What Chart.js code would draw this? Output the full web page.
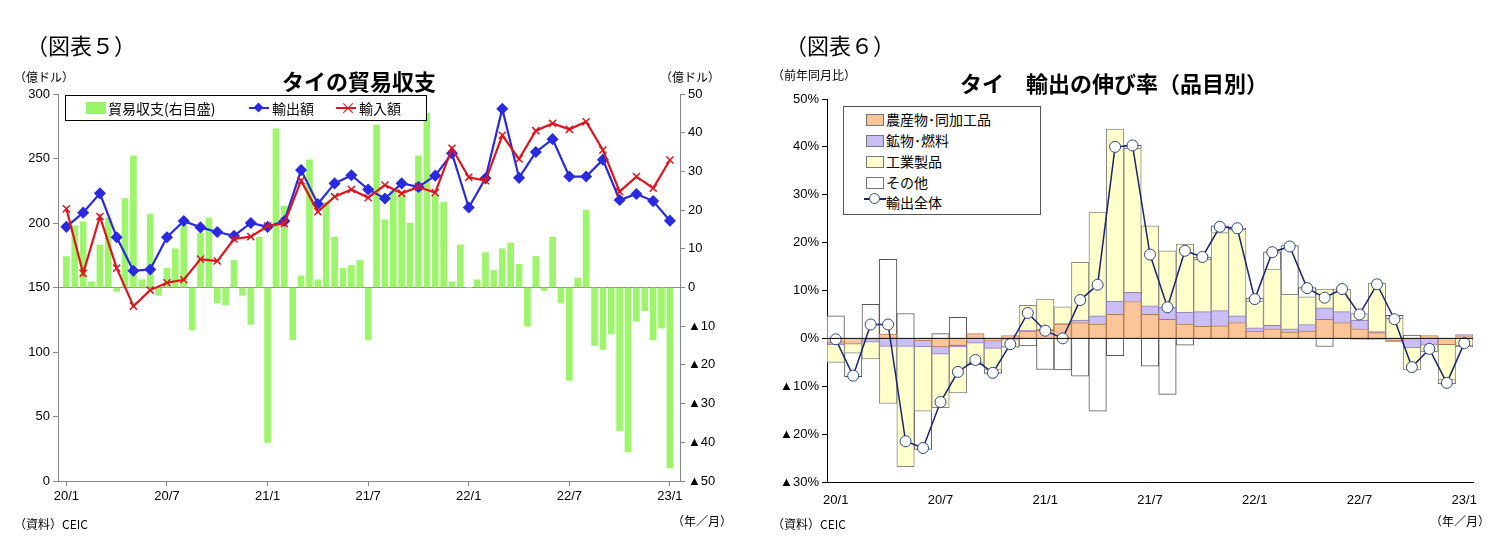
<!DOCTYPE html>
<html><head><meta charset="utf-8">
<script src="https://cdn.jsdelivr.net/npm/chart.js@4"></script>
<style>
body{margin:0;width:1505px;height:559px;background:#fff;position:relative;font-family:"Liberation Sans","Noto Sans CJK JP",sans-serif;overflow:hidden}
.t{position:absolute;white-space:nowrap;color:#000}
.jp{font-family:"Noto Sans CJK JP",sans-serif}
#c1{position:absolute;left:0;top:0}
#c2{position:absolute;left:750px;top:0}
.lg{position:absolute;border:1px solid #000;background:#fff;font-family:"Noto Sans CJK JP",sans-serif;font-size:14px}
</style></head><body>
<canvas id="c1" width="750" height="559"></canvas>
<canvas id="c2" width="755" height="559"></canvas>

<div class="t jp" style="left:26px;top:28px;font-size:22px">（図表５）</div>
<div class="t jp" style="left:785px;top:28px;font-size:22px">（図表６）</div>
<div class="t jp" style="left:282px;top:64px;font-size:22px;font-weight:bold">タイの貿易収支</div>
<div class="t jp" style="left:960px;top:66px;font-size:22px;font-weight:bold">タイ　輸出の伸び率（品目別）</div>
<div class="t jp" style="left:14px;top:68px;font-size:12px">（億ドル）</div>
<div class="t jp" style="left:660px;top:68px;font-size:12px">（億ドル）</div>
<div class="t jp" style="left:772px;top:66px;font-size:12px">（前年同月比）</div>
<div class="t jp" style="left:14px;top:515px;font-size:12px">（資料）CEIC</div>
<div class="t jp" style="left:772px;top:515px;font-size:12px">（資料）CEIC</div>
<div class="t jp" style="left:672px;top:512px;font-size:12px">（年／月）</div>
<div class="t jp" style="left:1430px;top:512px;font-size:12px">（年／月）</div>

<div class="lg" style="left:65px;top:95px;width:360px;height:24px">
 <div style="position:absolute;left:20px;top:6px;width:20px;height:12px;background:#9cf56b"></div>
 <div class="t" style="left:42px;top:2px">貿易収支(右目盛)</div>
 <div style="position:absolute;left:183px;top:11px;width:20px;height:2px;background:#2a2ae0"></div>
 <div style="position:absolute;left:189px;top:8px;width:7px;height:7px;background:#2a2ae0;transform:rotate(45deg)"></div>
 <div class="t" style="left:206px;top:2px">輸出額</div>
 <div style="position:absolute;left:270px;top:11px;width:20px;height:2px;background:#e0141e"></div>
 <div class="t" style="left:274px;top:-1px;color:#e0141e;font-size:16px">×</div>
 <div class="t" style="left:293px;top:2px">輸入額</div>
</div>

<div class="lg" style="left:843px;top:106px;width:196px;height:107px;border-color:#555">
 <div style="position:absolute;left:22px;top:7px;width:16px;height:10px;background:#fbc59a;border:1px solid #777"></div>
 <div class="t" style="left:42px;top:2px">農産物･同加工品</div>
 <div style="position:absolute;left:22px;top:28px;width:16px;height:10px;background:#cbbdf5;border:1px solid #777"></div>
 <div class="t" style="left:42px;top:23px">鉱物･燃料</div>
 <div style="position:absolute;left:22px;top:49px;width:16px;height:10px;background:#ffffcc;border:1px solid #777"></div>
 <div class="t" style="left:42px;top:44px">工業製品</div>
 <div style="position:absolute;left:22px;top:70px;width:16px;height:10px;background:#fff;border:1px solid #777"></div>
 <div class="t" style="left:42px;top:65px">その他</div>
 <div style="position:absolute;left:20px;top:91px;width:22px;height:1.5px;background:#1a2470"></div>
 <div style="position:absolute;left:25px;top:86px;width:9px;height:9px;border-radius:50%;background:#fff;border:1px solid #2a4a80"></div>
 <div class="t" style="left:42px;top:85px">輸出全体</div>
</div>

<script>
// ---- Chart 5 data ----
const months5 = ["20/1","20/2","20/3","20/4","20/5","20/6","20/7","20/8","20/9","20/10","20/11","20/12","21/1","21/2","21/3","21/4","21/5","21/6","21/7","21/8","21/9","21/10","21/11","21/12","22/1","22/2","22/3","22/4","22/5","22/6","22/7","22/8","22/9","22/10","22/11","22/12","23/1"];
const exports5 = [197,208,223,189,163,164,189,201.5,196.6,193,190,200,197,201.5,241,214.7,230.7,237,226,219,230.7,228,236.7,254,212,234.6,288.6,235,255,265,236,236,249,217.8,222.5,217,201.8];
const imports5 = [211,161,205,165,135.6,148,153.7,156,172,170.5,187.6,189.4,197.7,199.7,232.8,208.8,220.4,226,219.6,229.5,223,228,223.5,257.9,235.4,232.8,268,249.6,271.6,277.2,272.6,278.5,256.6,224.3,236,227,248.8];
const balance5 = [8,16,17,1.5,11,18,-1,23,34,2,19,-2,5,10,16,-11,14,18,-4,-4.5,7,-2,-9.5,13,-40,41,21,-13.5,3,33,2,22,13,5,5.7,7,-13.5,42,17.5,25,24,16.6,34,45,24,22,1.5,11,0,2,9,4.4,10,11.5,6,-10,8,-0.8,13,-4,-24,2.4,20,-15,-16,-12,-37,-42.5,-8.7,-6,-13.5,-10.5,-46.6];
const leftTicks5 = [0,50,100,150,200,250,300];
const rightTicks5 = [-50,-40,-30,-20,-10,0,10,20,30,40,50];

// ---- Chart 6 data ----
const months6 = months5;
const agri6 = [-1,-1.2,-0.3,0.9,0,-0.5,-1.8,-1.5,1,-0.6,0.6,1.5,1.7,3,3.3,3,5,7.7,5,4,3,2.5,2.6,3.3,1.5,2,1.3,1.5,4,3.3,2,1.2,-0.5,-0.3,0.6,-1.3,0.4];
const mineral6 = [-0.3,0,-0.5,-1.7,-1.7,-1.3,-1.5,-0.3,-1,-1.5,-0.4,0.2,0.2,0.1,0.5,1.7,2.8,1.9,1.8,2.5,2.5,3.1,3.2,1.4,0.7,0.7,0.7,1.4,2.4,2.3,1.8,0.2,-0.2,-1.7,-1.4,0,0.4];
const industry6 = [-3.7,-1.9,-3.5,-11.9,-25.1,-13.4,-11.2,-9.6,-4.2,-4.5,-1.4,5.2,6.3,3.5,12.1,21.7,35.9,30.1,16.7,11.8,14.2,10.9,16.3,18.1,5.6,11.8,7.2,5.8,3.9,4.7,1.4,10.1,4.2,-4.6,-1.4,-7.4,-1.5];
const other6 = [4.7,-4.9,7.1,15.6,5.2,-8,1,4.4,-0.3,-0.7,-0.2,-1.6,-6.5,-6.6,-7.9,-15.2,-3.6,0.6,-5.8,-11.7,-1.4,0.5,1.4,0.2,0.6,3.6,10.2,1.9,-1.7,0,-0.2,-0.2,0.6,0.7,0,-0.8,-0.3];
const total6 = [-0.2,-7.8,2.9,2.9,-21.5,-22.9,-13.3,-7,-4.5,-7.2,-1.2,5.3,1.6,0,8,11.2,40,40.3,17.5,6.5,18.3,17,23.3,23,8.2,18,19.2,10.5,8.5,10.3,5,11.3,4,-6,-2.2,-9.3,-1];
const yTicks6 = [-30,-20,-10,0,10,20,30,40,50];

const tri = v => v<0 ? "▲"+Math.abs(v) : String(v);
const tickFont = {family:"Liberation Sans", size:13};

// ---- Chart 5 ----
new Chart(document.getElementById('c1'), {
  data:{datasets:[
    {type:'line', data:exports5.map((v,i)=>({x:i,y:v})), yAxisID:'yL', borderColor:'#2a2ae0', backgroundColor:'#2a2ae0', borderWidth:2.2, pointStyle:'rectRot', pointRadius:4.5, tension:0, order:0},
    {type:'line', data:imports5.map((v,i)=>({x:i,y:v})), yAxisID:'yL', borderColor:'#e0141e', backgroundColor:'#e0141e', borderWidth:2.2, pointStyle:'crossRot', pointRadius:5, pointBorderWidth:1.5, tension:0, order:-1},
    {type:'bar', data:balance5.map((v,j)=>({x:j/2,y:v})), yAxisID:'yR', backgroundColor:'#9cf56b', barThickness:6, order:5}
  ]},
  options:{responsive:false, animation:false, devicePixelRatio:1,
    layout:{padding:{top:94,bottom:48,left:0,right:0}},
    plugins:{legend:{display:false},tooltip:{enabled:false}},
    scales:{
      x:{type:'linear', min:-0.5, max:36.6, offset:false,
        afterBuildTicks:s=>{s.ticks=[0,6,12,18,24,30,36].map(v=>({value:v}));},
        afterFit:s=>{s.height=30;},
        ticks:{callback:v=>months5[v], font:tickFont, color:'#000', maxRotation:0, autoSkip:false},
        grid:{drawOnChartArea:false, tickLength:5, color:'#888', offset:false}, border:{color:'#888'}},
      yL:{position:'left', min:0, max:300,
        afterBuildTicks:s=>{s.ticks=leftTicks5.map(v=>({value:v}));},
        afterFit:s=>{s.width=58;},
        ticks:{font:tickFont,color:'#000'}, grid:{drawOnChartArea:false, tickLength:5, color:'#888'}, border:{color:'#888'}},
      yR:{position:'right', min:-50, max:50,
        afterBuildTicks:s=>{s.ticks=rightTicks5.map(v=>({value:v}));},
        afterFit:s=>{s.width=70;},
        ticks:{font:tickFont,color:'#000',callback:tri}, grid:{drawOnChartArea:false, tickLength:5, color:'#888'}, border:{color:'#888'}}
    }},
  plugins:[{id:'zero',beforeDatasetsDraw(c){const y=c.scales.yR.getPixelForValue(0),a=c.chartArea,x=c.ctx;x.save();x.strokeStyle='#888';x.lineWidth=1;x.beginPath();x.moveTo(a.left,y);x.lineTo(a.right,y);x.stroke();x.restore();}}]
});

// ---- Chart 6 ----
const barBase = {type:'bar', stack:'s', barPercentage:1, categoryPercentage:1, borderWidth:1, order:2};
new Chart(document.getElementById('c2'), {
  data:{labels:months6, datasets:[
    {type:'line', data:total6, borderColor:'#1a2470', borderWidth:1.5, pointRadius:5.5, pointBackgroundColor:'#fff', pointBorderColor:'#2a4a80', pointBorderWidth:1, tension:0, order:0},
    {...barBase, data:agri6, backgroundColor:'#fbc59a', borderColor:'#b07a55'},
    {...barBase, data:mineral6, backgroundColor:'#cbbdf5', borderColor:'#8a80a8'},
    {...barBase, data:industry6, backgroundColor:'#ffffcc', borderColor:'#888'},
    {...barBase, data:other6, backgroundColor:'#ffffff', borderColor:'#555'}
  ]},
  options:{responsive:false, animation:false, devicePixelRatio:1,
    layout:{padding:{top:99,bottom:47,left:0,right:32}},
    plugins:{legend:{display:false},tooltip:{enabled:false}},
    scales:{
      x:{stacked:true, offset:true, afterFit:s=>{s.height=30;},
        ticks:{callback:(v,i)=> i%6===0 ? months6[i] : '', font:tickFont, color:'#000', maxRotation:0, autoSkip:false},
        grid:{display:false}, border:{color:'#000'}},
      y:{stacked:true, min:-30, max:50,
        afterBuildTicks:s=>{s.ticks=yTicks6.map(v=>({value:v}));},
        afterFit:s=>{s.width=77;},
        ticks:{font:tickFont,color:'#000',callback:v=>tri(v)+'%'}, grid:{drawOnChartArea:false, tickLength:5, color:'#000'}, border:{color:'#000'}}
    }},
  plugins:[{id:'zero6',afterDatasetsDraw(c){const y=c.scales.y.getPixelForValue(0),a=c.chartArea,x=c.ctx;x.save();x.strokeStyle='#000';x.lineWidth=1;x.beginPath();x.moveTo(a.left,y);x.lineTo(a.right,y);x.stroke();x.restore();}}]
});
</script>
</body></html>
